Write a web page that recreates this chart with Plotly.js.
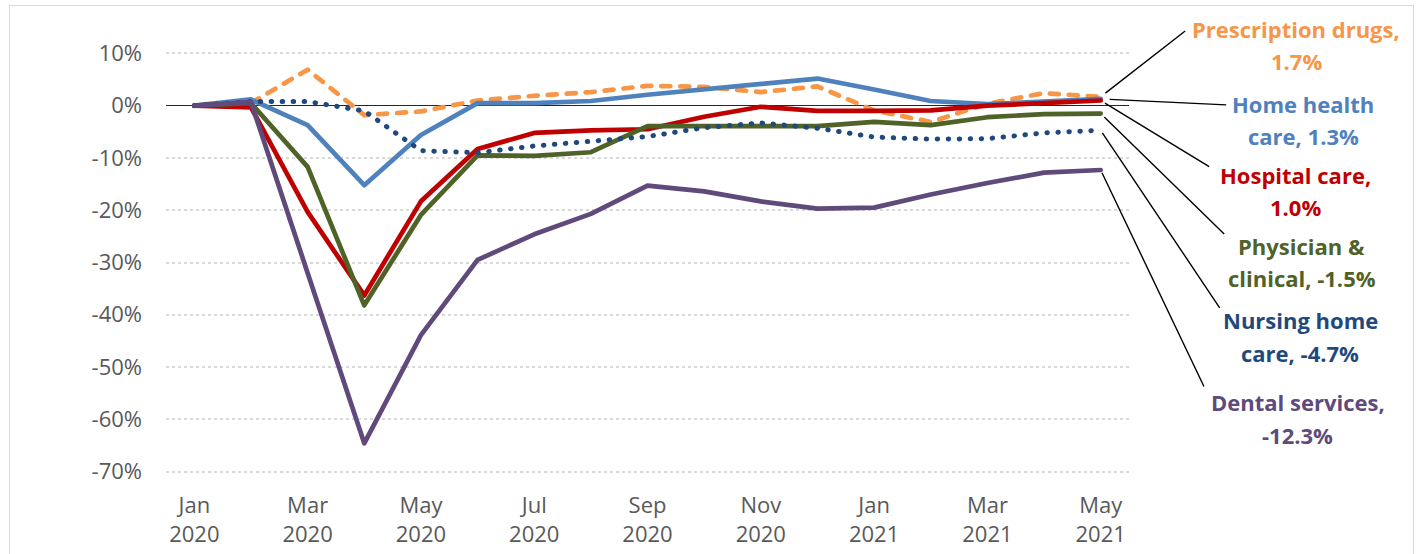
<!DOCTYPE html>
<html>
<head>
<meta charset="utf-8">
<script src="https://cdn.plot.ly/plotly-3.0.1.min.js"></script>
<style>
  html, body { margin: 0; padding: 0; background: #ffffff; }
  #wrap { position: relative; width: 1416px; height: 554px; overflow: hidden; }
  #chart { position: absolute; left: 0; top: 0; width: 1416px; height: 554px; }
  #frame { position: absolute; left: 9px; top: 5px; width: 1403px; height: 600px; border: 1.5px solid #d9d9d9; pointer-events: none; }
  .scatterlayer .trace .js-line { stroke-linecap: round; stroke-linejoin: round; }
</style>
</head>
<body>
<div id="wrap">
  <div id="frame"></div>
  <div id="chart"></div>
</div>
<script>
// ---- Data (percent change) ----
const months = ["Jan 2020","Feb 2020","Mar 2020","Apr 2020","May 2020","Jun 2020","Jul 2020","Aug 2020",
                "Sep 2020","Oct 2020","Nov 2020","Dec 2020","Jan 2021","Feb 2021","Mar 2021","Apr 2021","May 2021"];
const tickMonths = ["Jan 2020","Mar 2020","May 2020","Jul 2020","Sep 2020","Nov 2020","Jan 2021","Mar 2021","May 2021"];
const tickLabels = ["Jan<br>2020","Mar<br>2020","May<br>2020","Jul<br>2020","Sep<br>2020","Nov<br>2020","Jan<br>2021","Mar<br>2021","May<br>2021"];

const prescription = [0, 0.5, 6.9, -1.8, -1.1, 1.0, 1.9, 2.6, 3.8, 3.6, 2.6, 3.7, -0.9, -3.1, 0.4, 2.4, 1.7];
const homeHealth   = [0, 1.2, -3.7, -15.2, -5.6, 0.5, 0.5, 0.9, 2.1, 3.1, 4.2, 5.2, 3.1, 0.9, 0.3, 0.8, 1.3];
const hospital     = [0, -0.3, -20.3, -36.3, -18.3, -8.3, -5.2, -4.7, -4.5, -2.1, -0.2, -1.0, -1.0, -0.9, 0.0, 0.4, 1.0];
const physician    = [0, 0.5, -11.7, -38.2, -20.9, -9.5, -9.6, -8.9, -3.9, -4.0, -3.9, -3.9, -3.1, -3.7, -2.2, -1.6, -1.5];
const nursing      = [0, 0.8, 0.8, -1.0, -8.6, -9.0, -7.7, -6.9, -5.9, -4.2, -3.3, -4.3, -6.0, -6.4, -6.3, -5.2, -4.7];
const dental       = [0, 0.7, -32.0, -64.6, -43.9, -29.5, -24.6, -20.7, -15.3, -16.4, -18.3, -19.7, -19.5, -17.0, -14.8, -12.8, -12.3];

const yTickVals = [10, 0, -10, -20, -30, -40, -50, -60, -70];
const yTickText = ["10%", "0%", "-10%", "-20%", "-30%", "-40%", "-50%", "-60%", "-70%"];

const seriesNames = ["Prescription drugs", "Home health care", "Hospital care", "Physician & clinical", "Nursing home care", "Dental services"];
const seriesValues = [prescription, homeHealth, hospital, physician, nursing, dental];
const labelLines = [
  ["Prescription drugs,", "1.7%"],
  ["Home health", "care, 1.3%"],
  ["Hospital care,", "1.0%"],
  ["Physician &", "clinical, -1.5%"],
  ["Nursing home", "care, -4.7%"],
  ["Dental services,", "-12.3%"]
];

// ---- Styles ----
const FONT = "'Open Sans', Lato, sans-serif";
const colors = ["#F79646", "#4F81BD", "#C00000", "#4F6228", "#1F497D", "#604A7B"];
const dashes = ["9px,10px", "solid", "solid", "solid", "0.5px,10.5px", "solid"];
const widths = [4.7, 4.7, 4.7, 4.7, 5, 4.7];

// label placement (paper coords, centre of each line) and leader geometry (pixel offsets)
const labelX = [1.1739, 1.1808, 1.1724, 1.1792, 1.1777, 1.1751];
const labelY = [[1.0323, 0.9597], [0.8607, 0.7879], [0.6991, 0.6263], [0.5376, 0.4647], [0.3691, 0.2940], [0.1825, 0.1074]];
const leaderAX = [86, 127, 110, 125, 120, 104];
const leaderAY = [-67, 6, 67, 122, 179, 218];
const leaderStandoff = [6, 9, 5, 5, 3, 3];

const traces = seriesNames.map((name, i) => ({
  type: "scatter",
  mode: "lines",
  name: name,
  x: months,
  y: seriesValues[i],
  line: { color: colors[i], width: widths[i], dash: dashes[i] },
  hoverinfo: "x+y+name"
}));

const annotations = [];
seriesNames.forEach((name, i) => {
  const vals = seriesValues[i];
  // leader line from label to last data point
  annotations.push({
    xref: "x", yref: "y",
    x: months[months.length - 1], y: vals[vals.length - 1],
    text: "",
    showarrow: true, arrowhead: 0, arrowwidth: 1.4, arrowcolor: "#000000",
    axref: "pixel", ayref: "pixel",
    ax: leaderAX[i], ay: leaderAY[i],
    standoff: leaderStandoff[i]
  });
  labelLines[i].forEach((line, j) => {
    annotations.push({
      xref: "paper", yref: "paper",
      x: labelX[i], y: labelY[i][j],
      xanchor: "center", yanchor: "middle",
      text: "<b>" + line.replace("&", "&amp;") + "</b>",
      showarrow: false,
      font: { family: FONT, size: 22, color: colors[i] }
    });
  });
});

const layout = {
  width: 1416, height: 554,
  margin: { l: 165.7, r: 286.6, t: 42.8, b: 71.8, pad: 0 },
  paper_bgcolor: "rgba(0,0,0,0)",
  plot_bgcolor: "rgba(0,0,0,0)",
  showlegend: false,
  font: { family: FONT, size: 22, color: "#595959" },
  xaxis: {
    type: "category",
    categoryorder: "array", categoryarray: months,
    range: [-0.5, 16.5],
    tickmode: "array", tickvals: tickMonths, ticktext: tickLabels,
    showgrid: false, zeroline: false, showline: false, ticks: "",
    tickfont: { family: FONT, size: 22, color: "#595959" },
    ticklabelstandoff: 8
  },
  yaxis: {
    range: [-72, 12],
    tickmode: "array", tickvals: yTickVals, ticktext: yTickText,
    showgrid: true, gridcolor: "#d9d9d9", gridwidth: 2, griddash: "dot",
    zeroline: true, zerolinecolor: "#262626", zerolinewidth: 1.4,
    showline: false, ticks: "",
    tickfont: { family: FONT, size: 22, color: "#595959" },
    ticklabelstandoff: 23
  },
  annotations: annotations
};

Plotly.newPlot("chart", traces, layout, { displayModeBar: false, staticPlot: true });
</script>
</body>
</html>
